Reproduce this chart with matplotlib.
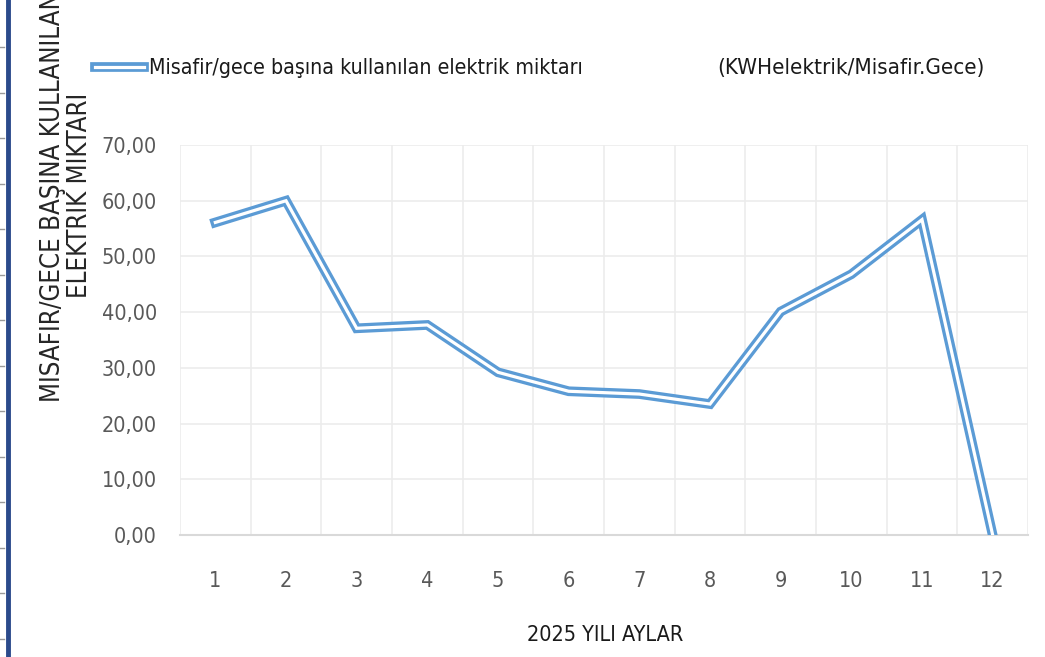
import matplotlib
matplotlib.use("Agg")
import matplotlib.pyplot as plt
import matplotlib.patheffects as pe
from matplotlib.lines import Line2D
from matplotlib.ticker import FixedLocator, FuncFormatter

months = [1, 2, 3, 4, 5, 6, 7, 8, 9, 10, 11, 12]
values = [56.1, 60.0, 37.1, 37.7, 29.2, 25.8, 25.3, 23.5, 40.1, 46.8, 56.6, 0.0]
series_label = "Misafir/gece başına kullanılan elektrik miktarı"
unit_label = "(KWHelektrik/Misafir.Gece)"
y_label_1 = "MISAFIR/GECE BAŞINA KULLANILAN"
y_label_2 = "ELEKTRIK MIKTARI"
x_label = "2025 YILI AYLAR"

plt.rcParams['font.family'] = ['DejaVu Sans']
plt.rcParams['font.stretch'] = 'condensed'

W, H = 1045, 657
fig = plt.figure(figsize=(W / 100, H / 100), dpi=100)
fig.patch.set_facecolor('white')

ax = fig.add_axes([180 / W, 1 - 535 / H, (1028 - 180) / W, (535 - 145) / H])
blue = '#5b9bd5'
effects = [pe.Stroke(linewidth=7.0, foreground=blue), pe.Normal()]
line, = ax.plot(months, values, color='white', lw=2.3, solid_joinstyle='miter',
                path_effects=effects, label=series_label, zorder=3)

ax.set_xlim(0.5, 12.5)
ax.set_ylim(0, 70)
ax.yaxis.set_major_locator(FixedLocator(range(0, 71, 10)))
ax.yaxis.set_major_formatter(FuncFormatter(lambda v, p: f"{v:.2f}".replace('.', ',')))
ax.xaxis.set_major_locator(FixedLocator(months))
ax.xaxis.set_minor_locator(FixedLocator([m + 0.5 for m in [0] + months]))
ax.grid(True, which='minor', axis='x', color='#ececec', lw=1.2)
ax.grid(True, which='major', axis='y', color='#ececec', lw=1.2)
ax.grid(False, which='major', axis='x')
for s in ['top', 'right', 'left']:
    ax.spines[s].set_visible(False)
ax.spines['bottom'].set_color('#d9d9d9')
ax.spines['bottom'].set_linewidth(1.5)
ax.tick_params(axis='both', which='both', length=0)
ax.tick_params(axis='y', labelsize=15.5, labelcolor='#595959', pad=16.5)
ax.tick_params(axis='x', labelsize=15.5, labelcolor='#595959', pad=26)
ax.set_axisbelow(True)

fig.text(605 / W, 1 - 635 / H, x_label, ha='center', va='center', fontsize=15.5, color='#1a1a1a')
fig.text(53 / W, 1 - 197 / H, y_label_1, rotation=90, ha='center', va='center',
         fontsize=18.5, color='#262626')
fig.text(80 / W, 1 - 195 / H, y_label_2, rotation=90, ha='center', va='center',
         fontsize=18.5, color='#262626')

handle = Line2D([0], [0], color='white', lw=2.3, path_effects=effects)
leg = fig.legend([handle], [series_label], loc='center left',
                 bbox_to_anchor=(95 / W, 1 - 68 / H), frameon=False,
                 fontsize=15.3, handlelength=2.3, handletextpad=0.25, borderpad=0,
                 borderaxespad=0)
for t in leg.get_texts():
    t.set_color('#1a1a1a')
fig.text(851 / W, 1 - 68 / H, unit_label, ha='center', va='center', fontsize=16, color='#1a1a1a')

# decorative left border
fig.add_artist(Line2D([7.5 / W, 7.5 / W], [0, 1], color='#2b4a8b', lw=3.5, transform=fig.transFigure))
for k in range(15):
    yy = 1 - (47 + 45.5 * k) / H
    if yy > 0:
        fig.add_artist(Line2D([0, 4 / W], [yy, yy], color='#9a9a9a', lw=1, transform=fig.transFigure))

fig.savefig('out.png', dpi=100, facecolor='white')
